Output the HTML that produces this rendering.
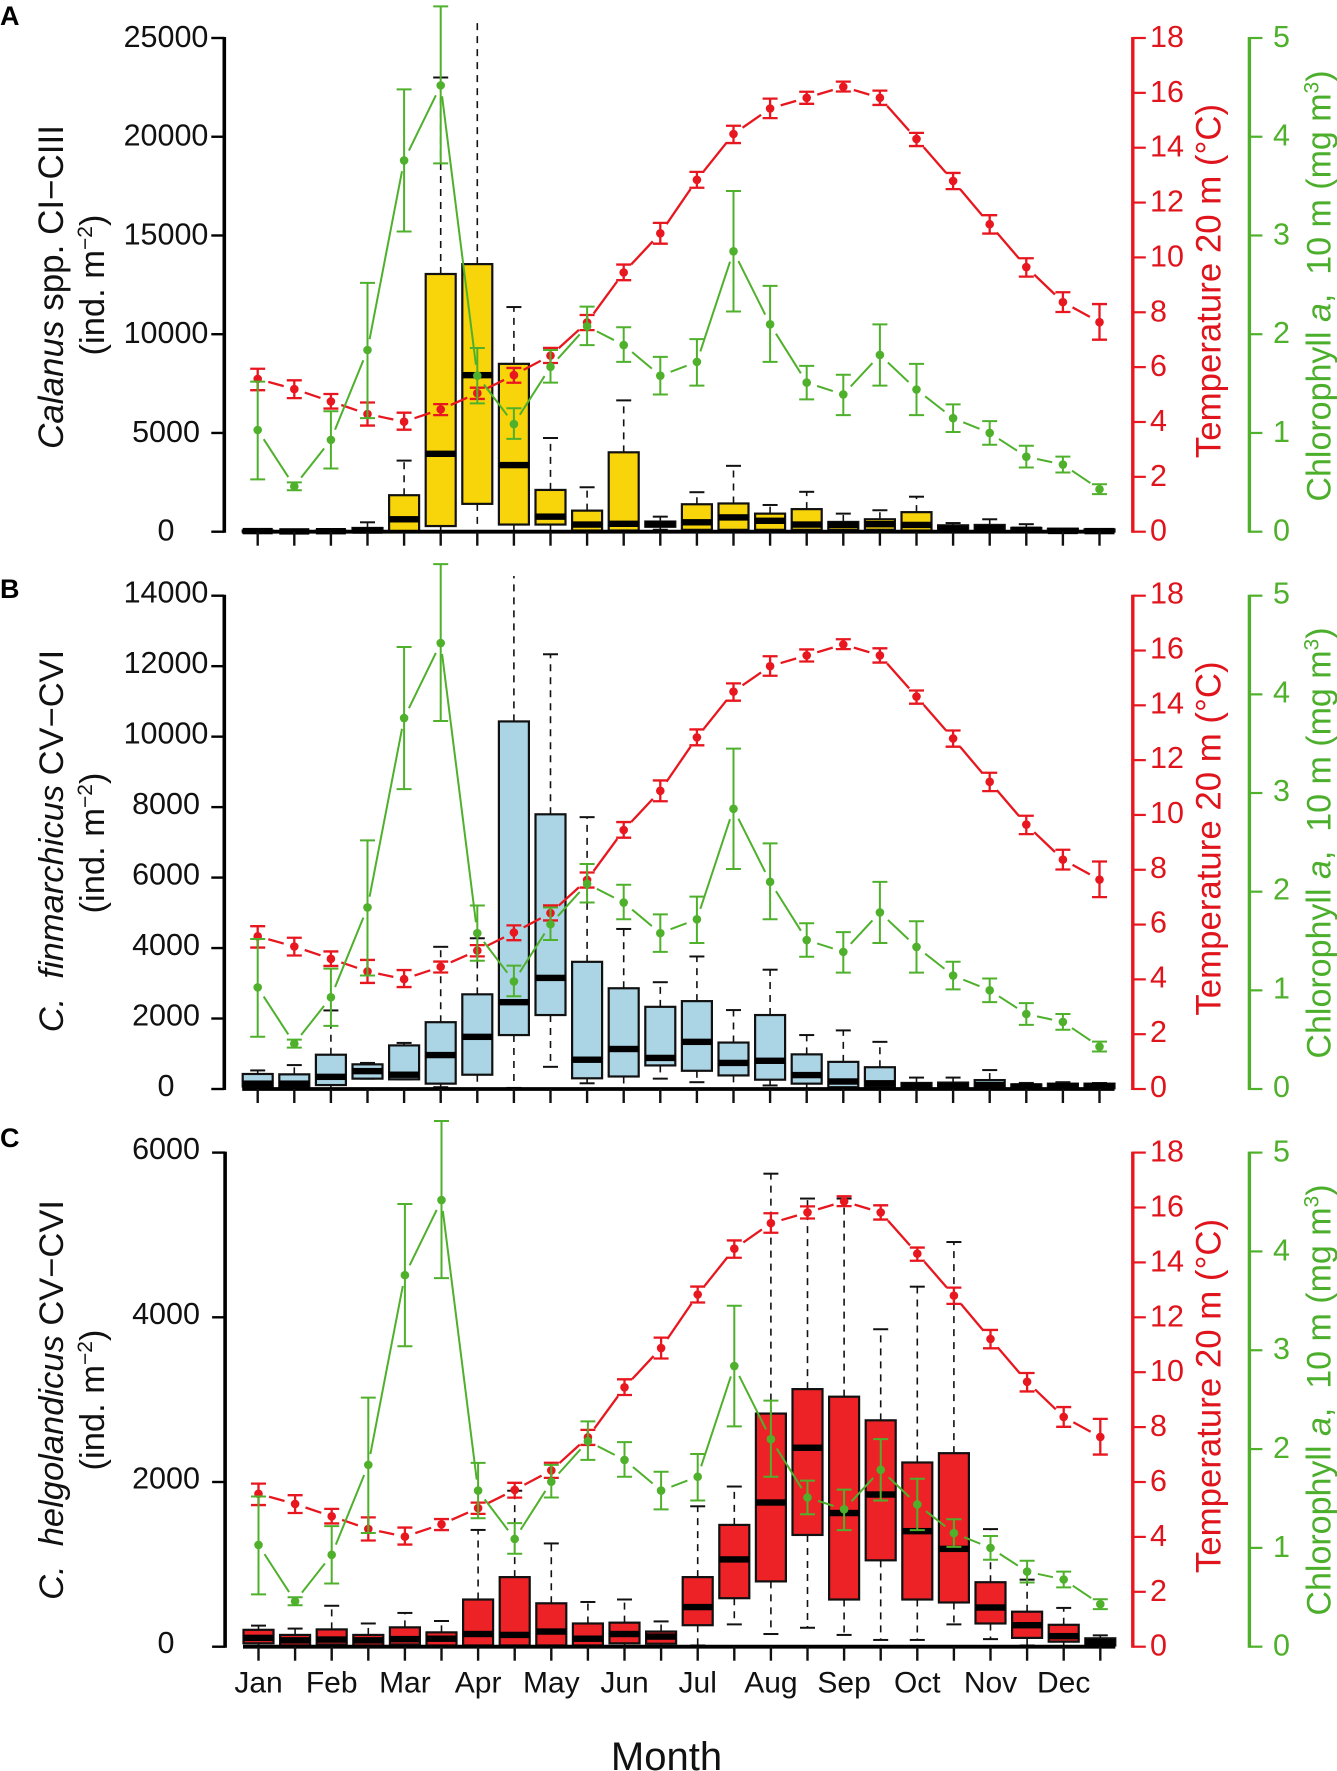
<!DOCTYPE html>
<html lang="en">
<head>
<meta charset="utf-8">
<title>Calanus abundance, temperature and chlorophyll by month</title>
<style>
html,body{margin:0;padding:0;background:#fff;}
svg{display:block;font-family:"Liberation Sans",sans-serif;}
.lt{font-size:34.5px;fill:#111;text-anchor:middle;}
.rt{font-size:34.8px;fill:#E0141C;text-anchor:middle;}
.gt{font-size:34px;fill:#4CAF2C;text-anchor:middle;}
.let{font-size:27px;font-weight:bold;fill:#000;}
</style>
</head>
<body>
<svg id="chart" xmlns="http://www.w3.org/2000/svg" width="1337" height="1771" viewBox="0 0 1337 1771">
  <rect width="1337" height="1771" fill="#fff"/>

  <g id="panel-a">
    <text class="let" x="0" y="25">A</text>
    <text class="lt" font-size="35" style="font-size:35px" transform="translate(63,287) rotate(-90)"><tspan font-style="italic">Calanus</tspan> spp. CI−CIII</text>
    <text class="lt" transform="translate(104,285) rotate(-90)">(ind. m<tspan font-size="21" dy="-12">−2</tspan><tspan dy="12">)</tspan></text>
    <text class="rt" transform="translate(1220.5,281) rotate(-90)">Temperature 20 m (°C)</text>
    <text class="gt" transform="translate(1330.5,286) rotate(-90)">Chlorophyll <tspan font-style="italic">a</tspan>,&#160; 10 m (mg m<tspan font-size="21" dy="-12">3</tspan><tspan dy="12">)</tspan></text>
  </g>

  <g id="panel-b">
    <text class="let" x="0" y="598">B</text>
    <text class="lt" transform="translate(63,841) rotate(-90)"><tspan font-style="italic">C.&#160; finmarchicus</tspan> CV−CVI</text>
    <text class="lt" transform="translate(104,843) rotate(-90)">(ind. m<tspan font-size="21" dy="-12">−2</tspan><tspan dy="12">)</tspan></text>
    <text class="rt" transform="translate(1220.5,838.5) rotate(-90)">Temperature 20 m (°C)</text>
    <text class="gt" transform="translate(1330.5,843) rotate(-90)">Chlorophyll <tspan font-style="italic">a</tspan>,&#160; 10 m (mg m<tspan font-size="21" dy="-12">3</tspan><tspan dy="12">)</tspan></text>
  </g>

  <g id="panel-c">
    <text class="let" x="0" y="1147">C</text>
    <text class="lt" transform="translate(63,1400) rotate(-90)"><tspan font-style="italic">C.&#160; helgolandicus</tspan> CV−CVI</text>
    <text class="lt" transform="translate(104,1400) rotate(-90)">(ind. m<tspan font-size="21" dy="-12">−2</tspan><tspan dy="12">)</tspan></text>
    <text class="rt" transform="translate(1220.5,1396) rotate(-90)">Temperature 20 m (°C)</text>
    <text class="gt" transform="translate(1330.5,1400) rotate(-90)">Chlorophyll <tspan font-style="italic">a</tspan>,&#160; 10 m (mg m<tspan font-size="21" dy="-12">3</tspan><tspan dy="12">)</tspan></text>
  </g>

  <text x="666.5" y="1770" font-size="40" text-anchor="middle" fill="#111">Month</text>
</svg>

<script>
// ---------- categories and tick labels ----------
const monthLabels = ['Jan','Feb','Mar','Apr','May','Jun','Jul','Aug','Sep','Oct','Nov','Dec'];
const calanusTicks = [0,5000,10000,15000,20000,25000];
const finmarchicusTicks = [0,2000,4000,6000,8000,10000,12000,14000];
const helgolandicusTicks = [0,2000,4000,6000];
const temperatureTicks = [0,2,4,6,8,10,12,14,16,18];
const chlorophyllTicks = [0,1,2,3,4,5];

// ---------- temperature at 20 m (half-month values) ----------
const tempMean = [5.57,5.20,4.75,4.29,4.01,4.46,5.05,5.71,6.42,7.63,9.45,10.88,12.83,14.50,15.43,15.82,16.22,15.82,14.32,12.79,11.21,9.65,8.37,7.64];
const tempLow  = [5.16,4.87,4.49,3.87,3.72,4.25,4.84,5.43,6.15,7.35,9.17,10.50,12.54,14.17,15.08,15.60,16.05,15.56,14.06,12.49,10.87,9.30,8.01,7.00];
const tempHigh = [5.94,5.52,5.02,4.71,4.34,4.65,5.25,5.97,6.70,7.90,9.74,11.26,13.12,14.80,15.79,16.04,16.41,16.08,14.54,13.08,11.54,9.97,8.73,8.30];

// ---------- chlorophyll a at 10 m ----------
const chlMean = [1.03,0.46,0.93,1.84,3.76,4.52,1.58,1.09,1.67,2.08,1.89,1.58,1.72,2.84,2.10,1.51,1.39,1.79,1.44,1.15,1.00,0.76,0.68,0.43];
const chlLow  = [0.53,0.42,0.64,1.15,3.04,3.73,1.30,0.94,1.51,1.89,1.72,1.39,1.48,2.23,1.72,1.34,1.18,1.48,1.18,1.01,0.88,0.65,0.60,0.38];
const chlHigh = [1.52,0.50,1.22,2.52,4.48,5.32,1.86,1.25,1.84,2.28,2.07,1.77,1.95,3.45,2.49,1.68,1.59,2.10,1.70,1.29,1.12,0.87,0.76,0.48];

// ---------- panel A: Calanus spp. CI-CIII boxplots ----------
const calanusLower  = [0,0,0,0,0,0,0,0,0,0,0,100,40,40,40,40,40,40,20,0,0,0,0,0];
const calanusQ1     = [0,0,0,20,0,286,1410,362,362,60,60,250,95,95,95,95,95,95,60,40,40,10,5,5];
const calanusMedian = [30,15,25,60,629,3944,7927,3373,762,362,400,380,476,724,553,362,343,381,343,152,171,95,38,30];
const calanusQ3     = [60,30,50,190,1848,13050,13550,8500,2115,1067,4020,515,1390,1430,915,1143,495,630,990,324,343,190,152,114];
const calanusUpper  = [80,40,70,476,3600,23000,26010,11376,4745,2250,6650,762,2000,3335,1353,2020,915,1086,1772,438,629,381,95,130];

// ---------- panel B: C. finmarchicus CV-CVI boxplots ----------
const finmarchicusLower  = [0,0,0,294,274,51,0,30,629,162,0,294,193,0,101,0,0,0,10,10,10,10,10,10];
const finmarchicusQ1     = [71,71,112,294,274,152,405,1531,2099,304,355,669,517,385,264,152,51,51,30,30,30,20,20,20];
const finmarchicusMedian = [152,152,345,507,405,963,1480,2464,3153,831,1135,882,1338,740,801,395,213,162,91,91,112,71,81,81];
const finmarchicusQ3     = [426,416,973,700,1237,1896,2687,10432,7796,3609,2859,2332,2494,1318,2099,983,770,618,172,182,253,132,152,152];
const finmarchicusUpper  = [527,679,2230,740,1308,4035,4278,14558,12338,7715,4542,3031,3761,2240,3386,1531,1663,1338,324,324,537,172,193,170];

// ---------- panel C: C. helgolandicus CV-CVI boxplots ----------
const helgolandicusLower  = [5,0,0,0,0,0,0,0,0,0,0,0,15,271,154,230,143,82,82,271,92,15,5,5];
const helgolandicusQ1     = [41,15,26,15,26,15,15,15,15,15,41,36,261,589,793,1357,573,1049,573,537,282,107,61,15];
const helgolandicusMedian = [107,77,87,77,92,97,154,143,184,97,154,123,481,1060,1751,2416,1623,1848,1403,1188,476,261,128,56];
const helgolandicusQ3     = [205,143,210,143,235,174,573,845,527,282,292,184,845,1479,2831,3128,3036,2749,2237,2350,783,425,266,102];
const helgolandicusUpper  = [256,220,497,282,410,312,1418,1894,1254,543,573,307,1705,1945,5744,5442,5442,3855,4372,4914,1428,814,471,138];

const SVGNS = 'http://www.w3.org/2000/svg';
const RED = '#E8161E';
const REDTEXT = '#E0141C';
const GREEN = '#4FB02C';
const STEP = 36.6;
const TEMP_MAX = 18;
const CHL_MAX = 5;

function mk(parent, tag, attrs, text) {
  const el = document.createElementNS(SVGNS, tag);
  for (const k in attrs) el.setAttribute(k, attrs[k]);
  if (text !== undefined) el.textContent = text;
  parent.appendChild(el);
  return el;
}

function drawPanel(cfg) {
  const root = document.getElementById(cfg.id);
  const h = cfg.bottom - cfg.top;
  const xPos = i => 257.7 + cfg.dx + i * STEP;
  const yAbund = v => cfg.bottom - v / cfg.max * h;
  const yTemp = v => cfg.bottom - v / TEMP_MAX * h;
  const yChl = v => cfg.bottom - v / CHL_MAX * h;
  const n = tempMean.length;
  const halfBox = 15;
  const capHalf = 7.5;
  let el;

  // ----- boxplots -----
  for (let i = 0; i < n; i++) {
    const x = xPos(i);
    const yLo = yAbund(cfg.lower[i]), yQ1 = yAbund(cfg.q1[i]), yMed = yAbund(cfg.median[i]);
    const yQ3 = yAbund(cfg.q3[i]), yHi = yAbund(cfg.upper[i]);
    el = mk(root, 'line', {x1:x, x2:x, y1:yQ3, y2:yHi, stroke:'#111', 'stroke-width':1.6, 'stroke-dasharray':'7 6'});
    
    
    // whiskers running off the top of the axis are cropped in the figure, so they carry no cap
    if (cfg.upper[i] <= cfg.max * 1.03) {
      el = mk(root, 'line', {x1:x-capHalf, x2:x+capHalf, y1:yHi, y2:yHi, stroke:'#111', 'stroke-width':2});
      
      
    }
    el = mk(root, 'line', {x1:x, x2:x, y1:yQ1, y2:yLo, stroke:'#111', 'stroke-width':1.6, 'stroke-dasharray':'7 6'});
    
    
    el = mk(root, 'line', {x1:x-capHalf, x2:x+capHalf, y1:yLo, y2:yLo, stroke:'#111', 'stroke-width':2});
    
    
    el = mk(root, 'rect', {x:x-halfBox, y:yQ3, width:halfBox*2, height:Math.max(yQ1-yQ3, 0.5), fill:cfg.fill, stroke:'#111', 'stroke-width':2.2});
    
    
    el = mk(root, 'rect', {x:x-halfBox, y:yMed-3.2, width:halfBox*2, height:6.4, fill:'#000'});
    
    
  }

  // ----- x axis -----
  el = mk(root, 'line', {x1:xPos(0)-15.5, x2:xPos(n-1)+15, y1:cfg.bottom, y2:cfg.bottom, stroke:'#000', 'stroke-width':3.8});
  
  
  for (let i = 0; i < n; i++) {
    el = mk(root, 'line', {x1:xPos(i), x2:xPos(i), y1:cfg.bottom, y2:cfg.bottom+14, stroke:'#111', 'stroke-width':2.4});
    
    
  }
  if (cfg.showMonths) {
    monthLabels.forEach((m, k) => {
      const t = mk(root, 'text', {x:xPos(k*2), y:1692.5, 'font-size':30, fill:'#111', 'text-anchor':'middle'}, m);
      
      
    });
  }

  // ----- left axis -----
  const axisX = 224.3 + cfg.dx;
  el = mk(root, 'line', {x1:axisX, x2:axisX, y1:cfg.top-1, y2:cfg.bottom+1, stroke:'#000', 'stroke-width':3.6});
  
  
  cfg.ticks.forEach(v => {
    const y = yAbund(v);
    const tk = mk(root, 'line', {x1:axisX-13, x2:axisX, y1:y, y2:y, stroke:'#000', 'stroke-width':2.4});
    
    
    const t = mk(root, 'text', {x:166, y:y+10.5+cfg.labelShift, 'font-size':30.5, fill:'#111', 'text-anchor':'middle'}, String(v));
    
    
  });

  // ----- temperature axis -----
  const tempX = 1132.8;
  el = mk(root, 'line', {x1:tempX, x2:tempX, y1:cfg.top-1, y2:cfg.bottom+1, stroke:RED, 'stroke-width':3.4});
  
  
  temperatureTicks.forEach(v => {
    const y = yTemp(v);
    const tk = mk(root, 'line', {x1:tempX, x2:tempX+13, y1:y, y2:y, stroke:RED, 'stroke-width':2.2});
    
    
    const t = mk(root, 'text', {x:1150, y:y+10.5+cfg.rightShift, 'font-size':30.5, fill:REDTEXT}, String(v));
    
    
  });

  // ----- chlorophyll axis -----
  const chlX = 1249.4;
  el = mk(root, 'line', {x1:chlX, x2:chlX, y1:cfg.top-1, y2:cfg.bottom+1, stroke:GREEN, 'stroke-width':3.4});
  
  
  chlorophyllTicks.forEach(v => {
    const y = yChl(v);
    const tk = mk(root, 'line', {x1:chlX, x2:chlX+13, y1:y, y2:y, stroke:GREEN, 'stroke-width':2.2});
    
    
    const t = mk(root, 'text', {x:1273, y:y+10.5+cfg.rightShift, 'font-size':30.5, fill:GREEN}, String(v));
    
    
  });

  // ----- line series with error bars (gapped "b" style) -----
  drawSeries(root, xPos, yTemp, tempMean, tempLow, tempHigh, RED, 2.3, 'temperature');
  drawSeries(root, xPos, yChl, chlMean, chlLow, chlHigh, GREEN, 2, 'chlorophyll');
}

function drawSeries(root, xPos, yFn, mean, low, high, color, width, label) {
  const gap = 11;
  let el;
  for (let i = 0; i < mean.length - 1; i++) {
    const x0 = xPos(i), y0 = yFn(mean[i]), x1 = xPos(i+1), y1 = yFn(mean[i+1]);
    const len = Math.hypot(x1-x0, y1-y0);
    if (len <= 2*gap) continue;
    const ux = (x1-x0)/len, uy = (y1-y0)/len;
    el = mk(root, 'line', {x1:x0+ux*gap, y1:y0+uy*gap, x2:x1-ux*gap, y2:y1-uy*gap, stroke:color, 'stroke-width':width});
    
    
  }
  for (let i = 0; i < mean.length; i++) {
    const x = xPos(i), yL = yFn(low[i]), yH = yFn(high[i]);
    el = mk(root, 'path', {d:'M'+(x-7.5)+' '+yH+'H'+(x+7.5)+'M'+x+' '+yH+'V'+yL+'M'+(x-7.5)+' '+yL+'H'+(x+7.5), fill:'none', stroke:color, 'stroke-width':width});
    
    
    el = mk(root, 'circle', {cx:x, cy:yFn(mean[i]), r:4.3, fill:color});
    
    
  }
}

drawPanel({id:'panel-a', top:38, bottom:531.7, dx:0, max:25000, ticks:calanusTicks, fill:'#F8D40A',
  lower:calanusLower, q1:calanusQ1, median:calanusMedian, q3:calanusQ3, upper:calanusUpper,
  labelShift:-1.5, rightShift:-1.5, showMonths:false});
drawPanel({id:'panel-b', top:595.7, bottom:1089, dx:0, max:14000, ticks:finmarchicusTicks, fill:'#ABD5E5',
  lower:finmarchicusLower, q1:finmarchicusQ1, median:finmarchicusMedian, q3:finmarchicusQ3, upper:finmarchicusUpper,
  labelShift:-3.5, rightShift:-2.5, showMonths:false});
drawPanel({id:'panel-c', top:1152.6, bottom:1646.7, dx:0.8, max:6000, ticks:helgolandicusTicks, fill:'#EC2227',
  lower:helgolandicusLower, q1:helgolandicusQ1, median:helgolandicusMedian, q3:helgolandicusQ3, upper:helgolandicusUpper,
  labelShift:-4, rightShift:-1.5, showMonths:true});
</script>
</body>
</html>
